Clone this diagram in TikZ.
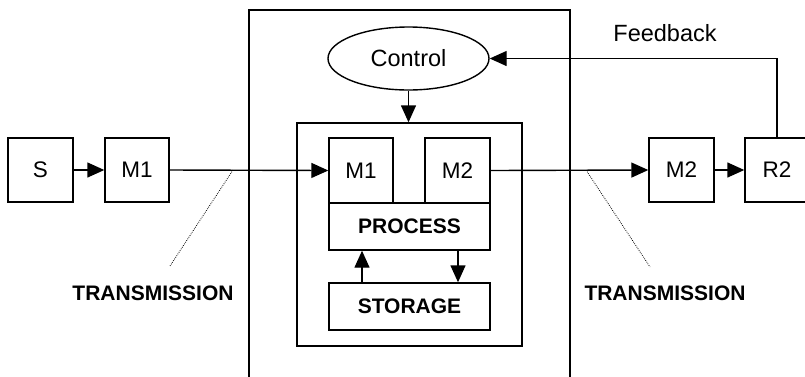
\documentclass[tikz,border=0pt]{standalone}
\usepackage{fontspec}
\setmainfont{Liberation Sans}
\usepackage{tikz}
\usetikzlibrary{shapes,arrows.meta}

\begin{document}
\begin{tikzpicture}[x=1pt,y=-1pt,line width=1.4pt,
  blk/.style={draw,rectangle,minimum width=64pt,minimum height=64pt,inner sep=0pt,font=\fontsize{22.5}{24}\selectfont},
  wide/.style={draw,rectangle,minimum width=161pt,minimum height=47pt,inner sep=0pt,font=\fontsize{21}{24}\selectfont\bfseries},
  lbl/.style={font=\fontsize{21}{24}\selectfont\bfseries},
  arr/.style={-{Triangle[length=17pt,width=15pt]}},
  tick/.style={line width=0.8pt,dash pattern=on 0.8pt off 1.2pt}]
\useasboundingbox (0,0) rectangle (805,376);
%
\draw (249,10) rectangle (570,395);
\node[draw,ellipse,minimum width=161pt,minimum height=63pt,inner sep=0pt,font=\fontsize{23.5}{24}\selectfont] (ctrl) at (408.5,58.5) {Control};
\node[draw,rectangle,minimum width=225pt,minimum height=223pt,inner sep=0pt] (inner) at (409.5,234.5) {};
\node[blk,minimum height=65pt] (m1b) at (361,170.5) {M1};
\node[blk,minimum width=65pt,minimum height=65pt] (m2b) at (457.5,170.5) {M2};
\node[wide] (proc) at (409.5,226.5) {PROCESS};
\node[wide] (stor) at (409.5,306.5) {STORAGE};
%
\node[blk,minimum width=65pt] (s) at (40.5,170) {S};
\node[blk] (m1a) at (137,170) {M1};
\node[blk,minimum width=65pt] (m2a) at (681.5,170) {M2};
\node[blk] (r2) at (777,170) {R2};
%
\node[font=\fontsize{23.5}{24}\selectfont] (fb) at (665,33) {Feedback};
\node[lbl] (tr1) at (153,293) {TRANSMISSION};
\node[lbl] (tr2) at (665,293) {TRANSMISSION};
%
\draw[arr] (s) -- (m1a);
\draw[arr] (m1a.east) -- (m1b.west);
\draw[arr] (m2b.east) -- (m2a.west);
\draw[arr] (m2a) -- (r2);
\draw[arr] (ctrl.south) -- (ctrl.south |- inner.north);
\draw[arr] (r2.north) |- (ctrl.east);
\draw[arr] (stor.north -| 362,0) -- (proc.south -| 362,0);
\draw[arr] (proc.south -| 458,0) -- (stor.north -| 458,0);
%
\coordinate (t1) at (233,170);
\coordinate (t1e) at (170,266);
\coordinate (t2) at (586,170);
\coordinate (t2e) at (650,267);
\draw[tick] (t1) -- (t1e);
\draw[tick] (t2) -- (t2e);
%
\end{tikzpicture}
\end{document}
